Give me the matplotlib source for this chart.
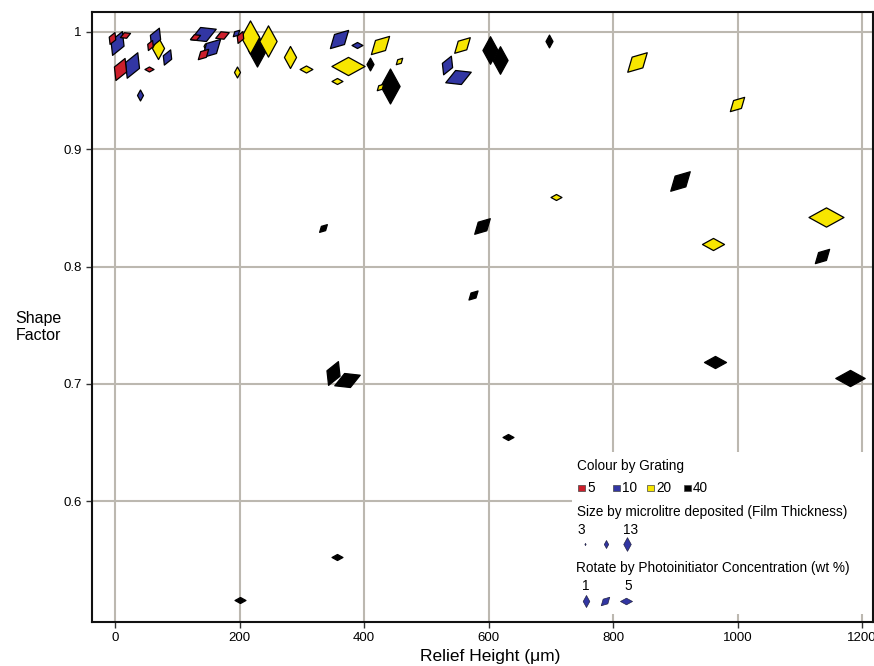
import matplotlib
matplotlib.use('Agg')
import matplotlib.pyplot as plt
from matplotlib.path import Path
from matplotlib.markers import MarkerStyle
from matplotlib.transforms import Affine2D
from matplotlib.patches import Rectangle
from matplotlib.lines import Line2D

# ---------------- data ----------------
# Grating 5 (red)
relief_g5 = [-5, 16, 8, 55, 56, 129, 172, 141, 201]
shape_g5 = [0.995, 0.997, 0.968, 0.968, 0.989, 0.996, 0.997, 0.981, 0.996]
vol_g5 = [8, 7, 14, 6, 7, 7, 9, 9, 8]
conc_g5 = [2, 4, 2, 5, 2, 4, 4, 3, 2]

# Grating 10 (blue)
relief_g10 = [3, 27, 40, 64, 84, 141, 154, 194, 360, 389, 533, 551]
shape_g10 = [0.991, 0.972, 0.946, 0.996, 0.979, 0.998, 0.986, 0.999, 0.994, 0.989, 0.972, 0.962]
vol_g10 = [15, 16, 7, 12, 10, 16, 15, 6, 15, 7, 12, 16]
conc_g10 = [2, 2, 1, 2, 2, 4, 3, 3, 3, 5, 2, 4]

# Grating 20 (yellow)
relief_g20 = [69, 145, 217, 246, 196, 281, 307, 374, 357, 426, 456, 557, 426, 839, 999, 708, 961, 1142]
shape_g20 = [0.986, 0.988, 0.996, 0.992, 0.966, 0.979, 0.968, 0.971, 0.958, 0.989, 0.975, 0.989, 0.953,
             0.974, 0.939, 0.859, 0.819, 0.842]
vol_g20 = [13, 4, 19, 18, 7, 13, 8, 19, 7, 15, 6, 13, 6, 16, 12, 7, 13, 20]
conc_g20 = [1, 1, 1, 1, 1, 1, 5, 5, 5, 3, 3, 3, 3, 3, 3, 5, 5, 5]

# Grating 40 (black)
relief_g40 = [228, 410, 442, 602, 618, 697, 590, 575, 334, 350, 373, 908, 964, 1181, 1136, 631, 357, 201]
shape_g40 = [0.985, 0.973, 0.954, 0.985, 0.976, 0.992, 0.835, 0.776, 0.833, 0.709, 0.703, 0.873,
             0.719, 0.705, 0.809, 0.655, 0.552, 0.516]
vol_g40 = [19, 8, 20, 16, 16, 8, 13, 8, 7, 15, 16, 16, 13, 17, 12, 7, 7, 7]
conc_g40 = [1, 1, 1, 1, 1, 1, 3, 3, 3, 2, 4, 3, 5, 5, 3, 5, 5, 5]

grating_labels = ['5', '10', '20', '40']
x_ticks = [0, 200, 400, 600, 800, 1000, 1200]
y_ticks = [0.6, 0.7, 0.8, 0.9, 1.0]
y_tick_labels = ['0.6', '0.7', '0.8', '0.9', '1']
size_legend_vals = [3, 8, 13]
rot_legend_vals = [1, 3, 5]

# ---------------- style ----------------
COLORS = ['#cc1f2b', '#3236a3', '#f7e600', '#000000']
GRID = '#bcb8b0'
W, H = 874, 666
SANS = ['Liberation Sans', 'DejaVu Sans']


def diamond(conc):
    verts = [(0, 1), (0.55, 0), (0, -1), (-0.55, 0), (0, 1)]
    codes = [Path.MOVETO, Path.LINETO, Path.LINETO, Path.LINETO, Path.CLOSEPOLY]
    return MarkerStyle(Path(verts, codes),
                       transform=Affine2D().rotate_deg(-(conc - 1) * 22.5))


def msize(vol, scale=1.0):
    return max(1.6, (1.85 * vol - 2) * scale) * 0.72


fig = plt.figure(figsize=(W / 100, H / 100), dpi=100)
ax = fig.add_axes([92 / W, 1 - 622 / H, (873 - 92) / W, (622 - 12) / H])
ax.set_xlim(-37, 1217.6)
ax.set_ylim(0.497, 1.017)

ax.set_axisbelow(True)
ax.set_xticks(x_ticks)
ax.set_yticks(y_ticks)
ax.set_yticklabels(y_tick_labels)
ax.grid(True, color=GRID, linewidth=1.5)
for s in ax.spines.values():
    s.set_linewidth(1.5)
    s.set_color('#111111')
ax.tick_params(direction='out', length=4, width=1, color='#333333', labelsize=9.5)
for lab in ax.get_xticklabels() + ax.get_yticklabels():
    lab.set_family(SANS)

groups = [
    (relief_g5, shape_g5, vol_g5, conc_g5),
    (relief_g10, shape_g10, vol_g10, conc_g10),
    (relief_g20, shape_g20, vol_g20, conc_g20),
    (relief_g40, shape_g40, vol_g40, conc_g40),
]
order = [3, 2, 1, 0]
for gi in order:
    xs, ys, vs, cs = groups[gi]
    for x, y, v, c in zip(xs, ys, vs, cs):
        ax.plot([x], [y], linestyle='none', marker=diamond(c), markersize=msize(v),
                markerfacecolor=COLORS[gi], markeredgecolor='black', markeredgewidth=0.9,
                zorder=3)

# axis labels
fig.text(38 / W, 1 - 327 / H, 'Shape\nFactor', ha='center', va='center',
         fontsize=11.5, family=SANS, linespacing=1.25)
fig.text(490 / W, 1 - 657 / H, 'Relief Height (\u03bcm)', ha='center', va='center',
         fontsize=12.5, family=SANS)

# ---------------- legend ----------------
def fx(px):
    return px / W


def fy(py):
    return 1 - py / H


bg = Rectangle((fx(572), fy(614)), fx(872) - fx(572), fy(452) - fy(614),
               transform=fig.transFigure, facecolor='white', edgecolor='none', zorder=1.5)
ax.add_patch(bg)
bg.set_clip_on(False)

tkw = dict(fontsize=9.8, family=SANS, va='center', ha='left', zorder=5)
fig.text(fx(577), fy(466), 'Colour by Grating', **tkw)
sw_x = [578, 613, 647, 684]
for i, lab in enumerate(grating_labels):
    fig.patches.append(Rectangle((fx(sw_x[i]), fy(491)), 7 / W, 6 / H,
                                 transform=fig.transFigure, facecolor=COLORS[i],
                                 edgecolor='#444444', linewidth=0.5))
    fig.text(fx(sw_x[i] + 9), fy(488), lab, **tkw)

fig.text(fx(577), fy(512), 'Size by microlitre deposited (Film Thickness)', **tkw)
fig.text(fx(577), fy(530), str(size_legend_vals[0]), **tkw)
fig.text(fx(623), fy(530), str(size_legend_vals[-1]), **tkw)
for xp, v in zip([585, 606, 627], size_legend_vals):
    fig.add_artist(Line2D([fx(xp)], [fy(544)], transform=fig.transFigure, linestyle='none',
                          marker=diamond(1), markersize=msize(v, 0.62),
                          markerfacecolor=COLORS[1], markeredgecolor='#222244',
                          markeredgewidth=0.5))

fig.text(fx(576), fy(568), 'Rotate by Photoinitiator Concentration (wt %)', **tkw)
fig.text(fx(582), fy(586), str(rot_legend_vals[0]), **tkw)
fig.text(fx(624), fy(586), str(rot_legend_vals[-1]), **tkw)
for xp, c in zip([586, 605, 626], rot_legend_vals):
    fig.add_artist(Line2D([fx(xp)], [fy(601)], transform=fig.transFigure, linestyle='none',
                          marker=diamond(c), markersize=12 * 0.72,
                          markerfacecolor=COLORS[1], markeredgecolor='#222244',
                          markeredgewidth=0.5))

fig.savefig('out.png', dpi=100)
